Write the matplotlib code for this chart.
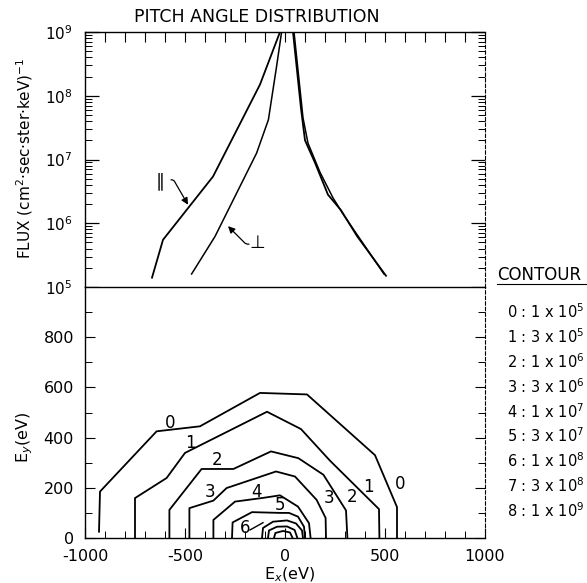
import math
import matplotlib
matplotlib.use("Agg")
import matplotlib.pyplot as plt
from matplotlib.lines import Line2D
from matplotlib.ticker import LogLocator, MultipleLocator, NullFormatter

plt.rcParams['font.family'] = ['DejaVu Sans']
plt.rcParams['axes.unicode_minus'] = False

# --- top panel: flux vs Ex, parallel (II) and perpendicular curves ---
par_left_ex = [-665, -610, -360, -125, -25]
par_left_flux = [1.4e5, 5.5e5, 5.4e6, 1.5e8, 1e9]
par_right_ex = [40, 80, 100, 150, 215, 280, 360, 505]
par_right_flux = [1e9, 6.3e7, 2.0e7, 8.9e6, 2.8e6, 1.6e6, 6.3e5, 1.5e5]

perp_left_ex = [-467, -350, -142, -83, -42, -17]
perp_left_flux = [1.6e5, 6.2e5, 1.26e7, 4.2e7, 2.9e8, 1e9]
perp_right_ex = [45, 90, 115, 175, 240, 290, 365, 495]
perp_right_flux = [1e9, 4.5e7, 1.8e7, 6.3e6, 2.5e6, 1.4e6, 6.3e5, 1.6e5]

# --- bottom panel: contour lines (Ex, Ey in eV) ---
c0_ex = [-930, -925, -642, -425, -125, 110, 450, 560, 560]
c0_ey = [25, 185, 425, 445, 578, 572, 330, 123, 0]
c1_ex = [-750, -750, -592, -500, -90, 80, 225, 470, 472]
c1_ey = [0, 159, 239, 339, 503, 434, 308, 115, 0]
c2_ex = [-578, -578, -417, -258, -70, 67, 192, 305, 312]
c2_ey = [0, 112, 275, 275, 345, 318, 252, 110, 0]
c3_ex = [-478, -478, -358, -292, -45, 50, 158, 203, 205]
c3_ey = [0, 119, 149, 199, 265, 245, 152, 80, 0]
c4_ex = [-358, -358, -250, -108, -25, 65, 120, 128]
c4_ey = [0, 72, 145, 160, 170, 125, 59, 0]
c5_ex = [-265, -262, -165, -25, 20, 65, 95, 100]
c5_ey = [0, 62, 103, 100, 100, 85, 45, 0]
c6_ex = [-115, -110, -60, 10, 55, 85, 90]
c6_ey = [0, 40, 65, 70, 58, 30, 0]
c7_ex = [-85, -80, -40, 10, 48, 62]
c7_ey = [0, 30, 45, 46, 32, 0]
c8_ex = [-55, -48, -10, 25, 38]
c8_ey = [0, 20, 28, 22, 0]

contour_ex = [c0_ex, c1_ex, c2_ex, c3_ex, c4_ex, c5_ex, c6_ex, c7_ex, c8_ex]
contour_ey = [c0_ey, c1_ey, c2_ey, c3_ey, c4_ey, c5_ey, c6_ey, c7_ey, c8_ey]

# contour label positions (label, Ex, Ey)
label_text = ['0', '1', '2', '3', '4', '5', '6', '0', '1', '2', '3']
label_ex = [-575, -475, -342, -375, -142, -25, -200, 575, 417, 335, 222]
label_ey = [459, 379, 312, 185, 185, 132, 40, 216, 205, 165, 160]

contour_levels = [1e5, 3e5, 1e6, 3e6, 1e7, 3e7, 1e8, 3e8, 1e9]

W, H = 587, 583
fig = plt.figure(figsize=(W / 100, H / 100), dpi=100)
ax1 = fig.add_axes([85 / W, 1 - 287 / H, 400 / W, 255 / H])
ax2 = fig.add_axes([85 / W, 1 - 538 / H, 400 / W, 251 / H])

lw = 1.3
ax1.plot(par_left_ex, par_left_flux, color='black', lw=lw)
ax1.plot(par_right_ex, par_right_flux, color='black', lw=lw)
ax1.plot(perp_left_ex, perp_left_flux, color='black', lw=1.1)
ax1.plot(perp_right_ex, perp_right_flux, color='black', lw=1.1)

ax1.set_yscale('log')
ax1.set_ylim(1e5, 1e9)
ax1.set_xlim(-1000, 1000)
ax1.xaxis.set_major_locator(MultipleLocator(100))
ax1.xaxis.set_major_formatter(NullFormatter())
ax1.tick_params(axis='x', which='major', top=True, bottom=False, direction='in',
                length=7, width=0.8, labelbottom=False, labeltop=False)
ax1.yaxis.set_major_locator(LogLocator(base=10, numticks=10))
ax1.yaxis.set_minor_locator(LogLocator(base=10, subs=range(2, 10), numticks=10))
ax1.yaxis.set_minor_formatter(NullFormatter())
ax1.tick_params(axis='y', which='major', left=True, right=True, direction='in',
                length=10, width=0.9, labelsize=11, pad=9)
ax1.tick_params(axis='y', which='minor', left=True, right=True, direction='in',
                length=5, width=0.7)

# curve labels with bent leader arrows
ax1.text(-625, 4.5e6, '∥', fontsize=13, ha='center', va='center')
ax1.annotate('', xy=(-485, 1.95e6), xytext=(-570, 4.8e6),
             arrowprops=dict(arrowstyle='-|>', color='black', lw=0.9,
                             shrinkA=0, shrinkB=0,
                             connectionstyle='angle,angleA=0,angleB=120,rad=2'))
ax1.text(-140, 4.9e5, '⊥', fontsize=13, ha='center', va='center')
ax1.annotate('', xy=(-285, 9.0e5), xytext=(-180, 4.7e5),
             arrowprops=dict(arrowstyle='-|>', color='black', lw=0.9,
                             shrinkA=0, shrinkB=0,
                             connectionstyle='angle,angleA=180,angleB=135,rad=2'))

for ex, ey in zip(contour_ex, contour_ey):
    ax2.plot(ex, ey, color='black', lw=lw)
for t, x, y in zip(label_text, label_ex, label_ey):
    ax2.text(x, y, t, fontsize=12, ha='center', va='center')
ax2.plot([-175, -110], [32, 61], color='black', lw=1.0)

ax2.set_xlim(-1000, 1000)
ax2.set_ylim(0, 1000)
ax2.set_xticks([-1000, -500, 0, 500, 1000])
ax2.xaxis.set_minor_locator(MultipleLocator(100))
ax2.set_yticks([0, 200, 400, 600, 800])
ax2.yaxis.set_minor_locator(MultipleLocator(100))
ax2.tick_params(axis='both', which='major', direction='in', length=7, width=0.8,
                labelsize=11.5, right=True)
ax2.tick_params(axis='both', which='minor', direction='in', length=5, width=0.7,
                right=True)
ax2.tick_params(axis='x', which='major', pad=8)
ax2.tick_params(axis='y', which='major', pad=8)

for ax in (ax1, ax2):
    for s in ax.spines.values():
        s.set_linewidth(1.0)
    ax.spines['right'].set_linestyle((0, (3, 2)))
    ax.spines['right'].set_linewidth(0.8)
ax1.spines['bottom'].set_visible(False)

fig.text(257 / W, 1 - 17 / H, 'PITCH ANGLE DISTRIBUTION', fontsize=12.5,
         ha='center', va='center')
fig.text(25 / W, 1 - 158 / H, 'FLUX (cm$^2$·sec·ster·keV)$^{-1}$', fontsize=11,
         rotation=90, ha='center', va='center')
fig.text(25 / W, 1 - 437 / H, 'E$_y$(eV)', fontsize=11.5, rotation=90,
         ha='center', va='center')
fig.text(290 / W, 1 - 575 / H, 'E$_x$(eV)', fontsize=11.5, ha='center', va='center')

fig.text(497 / W, 1 - 275 / H, 'CONTOUR', fontsize=12, ha='left', va='center')
fig.add_artist(Line2D([497 / W, 586 / W], [1 - 284 / H, 1 - 284 / H],
                      transform=fig.transFigure, color='black', lw=0.8))
for i, lev in enumerate(contour_levels):
    e = int(math.floor(math.log10(lev) + 1e-9))
    m = int(round(lev / 10 ** e))
    fig.text(507 / W, 1 - (312 + i * 24.8) / H, f'{i} : {m} x 10$^{{{e}}}$',
             fontsize=10.5, ha='left', va='center')

fig.savefig('out.png', dpi=100)
